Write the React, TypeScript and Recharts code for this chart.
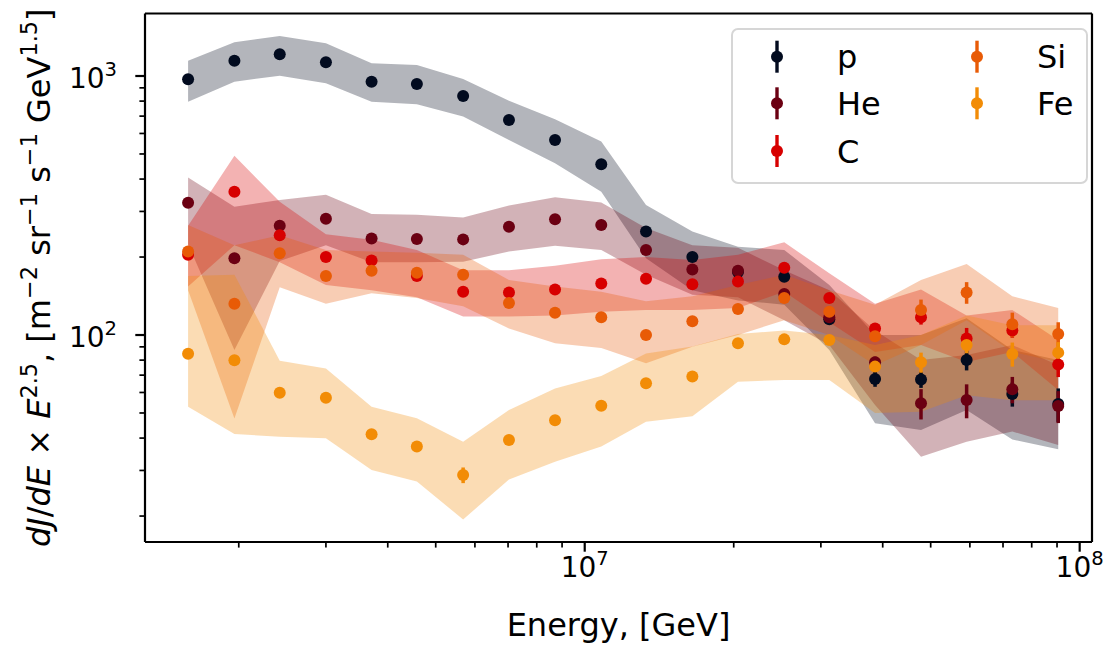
import React from 'react';
import { ComposedChart, Area, Scatter, ErrorBar, XAxis, YAxis, ReferenceLine } from 'recharts';

// bin centres, GeV
const ENERGY = [
  1.58e6, 1.96e6, 2.42e6, 3.0e6, 3.71e6, 4.58e6, 5.68e6, 7.03e6, 8.71e6, 1.08e7,
  1.33e7, 1.65e7, 2.04e7, 2.53e7, 3.12e7, 3.86e7, 4.78e7, 5.91e7, 7.31e7, 9.05e7,
];

// reconstructed flux x E^2.5
const P_FLUX = [971, 1146, 1213, 1129, 951, 931, 837, 676, 566, 456, 251, 200, 175, 168, 115, 67.6, 67.3, 80, 59.2, 54.2];
const HE_FLUX = [324, 198, 264, 281, 236, 235, 234, 262, 280, 266, 213, 179, 177, 144, 117, 78.5, 54.5, 56.1, 61.7, 53.2];
const C_FLUX = [204, 357, 243, 200, 194, 169, 147, 146, 150, 158, 165, 157, 161, 182, 139, 106, 117, 97, 104, 77];
const SI_FLUX = [210, 132, 207, 169, 177, 174, 171, 133, 122, 117, 100, 113, 126, 139, 123, 99, 125, 146, 110, 101];
const FE_FLUX = [84.7, 79.9, 59.8, 57.3, 41.4, 37.1, 28.8, 39.3, 46.9, 53.3, 65.1, 69.1, 92.9, 96.2, 95.7, 75.5, 78.5, 91.5, 84.5, 85.5];

// statistical errors
const P_ERR = [8, 9, 10, 9, 8, 8, 7, 6, 5, 4, 3, 3, 3, 3, 3, 4.5, 4.8, 7, 6.3, 8];
const HE_ERR = [4, 3, 4, 4, 3, 3, 3, 3, 4, 4, 3, 3, 3, 3, 3, 4, 7.3, 8.4, 7.2, 7.5];
const C_ERR = [3, 5, 3, 3, 3, 3, 2, 2, 2, 3, 3, 3, 3, 4, 3, 4.8, 7.3, 9.5, 6.4, 8.2];
const SI_ERR = [3, 2, 3, 3, 3, 3, 3, 2, 2, 2, 2, 2, 3, 3, 3, 4.5, 12, 14, 12, 11];
const FE_ERR = [1.5, 1.5, 1, 1, 1, 1, 2, 1.5, 1, 1, 1.5, 1.5, 2, 2, 2, 3.4, 7, 6.5, 9, 8.4];

// systematic bands (low / high)
const P_LO = [796, 951, 1003, 937, 796, 778, 697, 566, 460, 357, 198, 149, 136, 131, 87.5, 45.6, 43, 51.3, 39.5, 36.2];
const P_HI = [1146, 1349, 1427, 1337, 1120, 1102, 973, 803, 681, 558, 318, 251, 219, 213, 156, 100, 100, 116, 87.5, 80];
const HE_LO = [224, 87.5, 193, 222, 191, 191, 192, 210, 221, 213, 171, 143, 140, 114, 91.5, 53.7, 33.9, 38.7, 42.4, 37.6];
const HE_HI = [406, 313, 332, 348, 293, 291, 284, 316, 340, 325, 259, 222, 217, 178, 149, 104, 80, 83.7, 91.5, 76.5];
const C_LO = [154, 222, 191, 156, 149, 140, 118, 118, 119, 123, 125, 125, 127, 147, 112, 86, 91.5, 78.7, 86, 61.4];
const C_HI = [264, 492, 327, 245, 233, 213, 178, 178, 185, 196, 200, 195, 204, 228, 173, 132, 150, 119, 125, 95.7];
const SI_LO = [149, 47.6, 153, 132, 145, 139, 129, 106, 93, 89, 77.8, 90, 100, 114, 100, 76.5, 91.5, 114, 86, 78.7];
const SI_HI = [266, 222, 243, 213, 210, 208, 204, 163, 154, 147, 135, 141, 156, 171, 149, 131, 163, 188, 141, 127];
const FE_LO = [52.8, 41.5, 40.5, 39.9, 30.1, 27.2, 19.4, 27.7, 32.4, 37.1, 46.3, 48.6, 66, 67, 67, 50, 50.5, 58.6, 56, 56];
const FE_HI = [169, 171, 79.6, 74.3, 52.8, 47.7, 38.7, 51.3, 62.2, 69.5, 84.9, 90.2, 101, 104, 100, 91.5, 100, 119, 109, 109];

// axis ticks
const X_DOMAIN = [1.293e6, 1.059e8];
const Y_DOMAIN = [15.88, 1743];
const X_TICKS = [2e6, 3e6, 4e6, 5e6, 6e6, 7e6, 8e6, 9e6, 1e7, 2e7, 3e7, 4e7, 5e7, 6e7, 7e7, 8e7, 9e7, 1e8];
const X_LABELS: Record<number, string> = { 1e7: '7', 1e8: '8' };
const Y_TICKS = [20, 30, 40, 50, 60, 70, 80, 90, 100, 200, 300, 400, 500, 600, 700, 800, 900, 1000];
const Y_LABELS: Record<number, string> = { 100: '2', 1000: '3' };

const SPECIES = [
  { key: 'p', label: 'p', color: '#020b1f', flux: P_FLUX, err: P_ERR, lo: P_LO, hi: P_HI },
  { key: 'he', label: 'He', color: '#6b0012', flux: HE_FLUX, err: HE_ERR, lo: HE_LO, hi: HE_HI },
  { key: 'c', label: 'C', color: '#d70000', flux: C_FLUX, err: C_ERR, lo: C_LO, hi: C_HI },
  { key: 'si', label: 'Si', color: '#e85b06', flux: SI_FLUX, err: SI_ERR, lo: SI_LO, hi: SI_HI },
  { key: 'fe', label: 'Fe', color: '#f28c06', flux: FE_FLUX, err: FE_ERR, lo: FE_LO, hi: FE_HI },
];

const FONT = '"DejaVu Sans", sans-serif';

const bandRows = ENERGY.map((e, i) => {
  const row: any = { energy: e };
  SPECIES.forEach(s => { row[s.key] = [s.lo[i], s.hi[i]]; });
  return row;
});

const pointsFor = (s: typeof SPECIES[number]) =>
  ENERGY.map((e, i) => ({ energy: e, flux: s.flux[i], err: s.err[i] }));

const XTick = ({ x, y, payload }: any) => {
  const exp = X_LABELS[payload.value];
  return (
    <g>
      <line x1={x} x2={x} y1={y} y2={y + (exp ? 9.7 : 5.6)} stroke="#000" strokeWidth={exp ? 2.2 : 1.7} />
      {exp && (
        <text x={x} y={y + 35} textAnchor="middle" fontSize={28} fontFamily={FONT} fill="#000">
          10<tspan dy={-12} fontSize={19.6}>{exp}</tspan>
        </text>
      )}
    </g>
  );
};

const YTick = ({ x, y, payload }: any) => {
  const exp = Y_LABELS[payload.value];
  return (
    <g>
      <line x1={x} x2={x - (exp ? 9.7 : 5.6)} y1={y} y2={y} stroke="#000" strokeWidth={exp ? 2.2 : 1.7} />
      {exp && (
        <text x={x - 28} y={y + 12} textAnchor="end" fontSize={28} fontFamily={FONT} fill="#000">
          10<tspan dy={-12} fontSize={19.6}>{exp}</tspan>
        </text>
      )}
    </g>
  );
};

const XLabel = () => (
  <text x={618.5} y={636} textAnchor="middle" fontSize={32} fontFamily={FONT} fill="#000">
    Energy, [GeV]
  </text>
);

const YLabel = () => {
  const cx = 50;
  const cy = 277.75;
  const up = -13;
  const sup = 22.4;
  return (
    <text x={cx} y={cy} transform={`rotate(-90 ${cx} ${cy})`} textAnchor="middle" fontSize={32} fontFamily={FONT} fill="#000">
      <tspan fontStyle="italic">dJ</tspan>
      <tspan>/</tspan>
      <tspan fontStyle="italic">dE</tspan>
      <tspan>{' × '}</tspan>
      <tspan fontStyle="italic">E</tspan>
      <tspan dy={up} fontSize={sup}>2.5</tspan>
      <tspan dy={-up}>{', [m'}</tspan>
      <tspan dy={up} fontSize={sup}>−2</tspan>
      <tspan dy={-up}>{' sr'}</tspan>
      <tspan dy={up} fontSize={sup}>−1</tspan>
      <tspan dy={-up}>{' s'}</tspan>
      <tspan dy={up} fontSize={sup}>−1</tspan>
      <tspan dy={-up}>{' GeV'}</tspan>
      <tspan dy={up} fontSize={sup}>1.5</tspan>
      <tspan dy={-up}>]</tspan>
    </text>
  );
};

const LegendBox = () => {
  const rows = [
    { s: SPECIES[0], cx: 46, cy: 28.7 },
    { s: SPECIES[1], cx: 46, cy: 75.3 },
    { s: SPECIES[2], cx: 46, cy: 123 },
    { s: SPECIES[3], cx: 246, cy: 28.7 },
    { s: SPECIES[4], cx: 246, cy: 75.3 },
  ];
  return (
    <div style={{ position: 'absolute', left: 731, top: 28 }}>
      <svg width={358} height={157}>
        <rect x={1} y={1} width={355} height={154} rx={6} fill="#fff" fillOpacity={0.8} stroke="#d6d6d6" strokeWidth={2} />
        {rows.map(({ s, cx, cy }) => (
          <g key={s.key}>
            <line x1={cx} x2={cx} y1={cy - 16} y2={cy + 16} stroke={s.color} strokeWidth={3.4} />
            <circle cx={cx} cy={cy} r={6} fill={s.color} />
            <text x={cx + 60} y={cy + 11.7} fontSize={32} fontFamily={FONT} fill="#000">{s.label}</text>
          </g>
        ))}
      </svg>
    </div>
  );
};

const App = () => {
  const frame = { stroke: '#000', strokeWidth: 2.2 };
  return (
    <div style={{ position: 'absolute', left: 0, top: 0, width: 1116, height: 648, background: '#fff' }}>
      <ComposedChart width={1116} height={648} data={bandRows} margin={{ top: 13.5, right: 24, bottom: 0, left: 0 }}>
        <XAxis
          dataKey="energy"
          type="number"
          scale="log"
          domain={X_DOMAIN}
          allowDataOverflow
          ticks={X_TICKS}
          interval={0}
          tick={<XTick />}
          tickLine={false}
          tickSize={0}
          tickMargin={0}
          height={106}
          axisLine={frame}
          label={{ content: XLabel }}
        />
        <YAxis
          type="number"
          scale="log"
          domain={Y_DOMAIN}
          allowDataOverflow
          ticks={Y_TICKS}
          interval={0}
          tick={<YTick />}
          tickLine={false}
          tickSize={0}
          tickMargin={0}
          width={145}
          axisLine={frame}
          label={{ content: YLabel }}
        />

        {SPECIES.map(s => (
          <Area
            key={`band-${s.key}`}
            dataKey={s.key}
            type="linear"
            stroke="none"
            fill={s.color}
            fillOpacity={0.3}
            dot={false}
            activeDot={false}
            isAnimationActive={false}
          />
        ))}

        {SPECIES.map(s => (
          <Scatter
            key={`pts-${s.key}`}
            name={s.label}
            data={pointsFor(s)}
            dataKey="flux"
            fill={s.color}
            isAnimationActive={false}
            shape={(props: any) => <circle cx={props.cx} cy={props.cy} r={6} fill={s.color} />}
          >
            <ErrorBar dataKey="err" direction="y" width={0} stroke={s.color} strokeWidth={3.5} />
          </Scatter>
        ))}

        {/* top and right spines */}
        <ReferenceLine y={Y_DOMAIN[1]} stroke="#000" strokeWidth={2.2} ifOverflow="visible" />
        <ReferenceLine x={X_DOMAIN[1]} stroke="#000" strokeWidth={2.2} ifOverflow="visible" />
      </ComposedChart>
      <LegendBox />
    </div>
  );
};

export default App;
